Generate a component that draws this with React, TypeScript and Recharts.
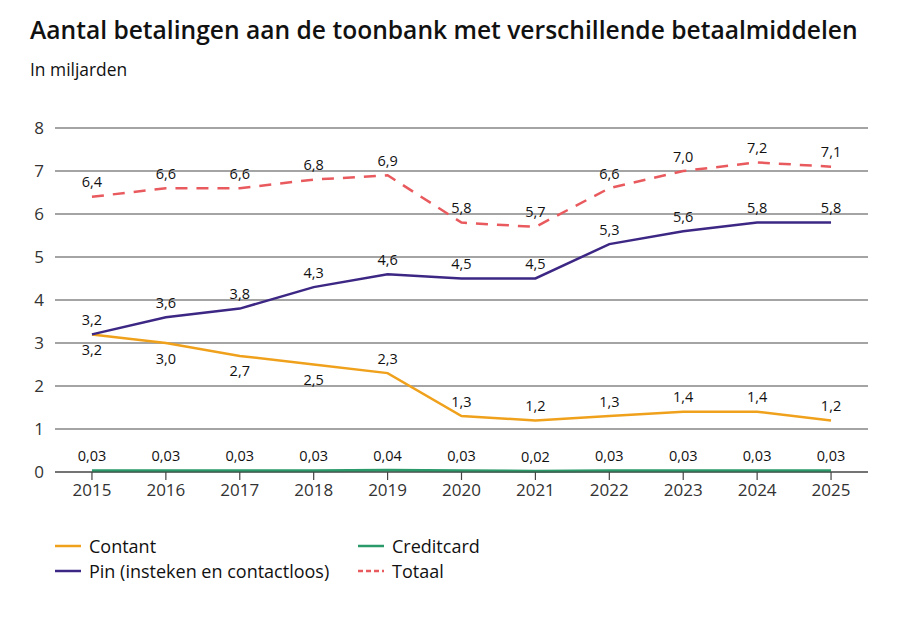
import React from "react";
import { LineChart, Line, XAxis, YAxis, CartesianGrid, LabelList } from "recharts";

const years = ["2015", "2016", "2017", "2018", "2019", "2020", "2021", "2022", "2023", "2024", "2025"];
const contant = [3.2, 3.0, 2.7, 2.5, 2.3, 1.3, 1.2, 1.3, 1.4, 1.4, 1.2];
const pin = [3.2, 3.6, 3.8, 4.3, 4.6, 4.5, 4.5, 5.3, 5.6, 5.8, 5.8];
const creditcard = [0.03, 0.03, 0.03, 0.03, 0.04, 0.03, 0.02, 0.03, 0.03, 0.03, 0.03];
const totaal = [6.4, 6.6, 6.6, 6.8, 6.9, 5.8, 5.7, 6.6, 7.0, 7.2, 7.1];
const contantBelow = [true, true, true, true, false, false, false, false, false, false, false];
const yTicks = [0, 1, 2, 3, 4, 5, 6, 7, 8];

const COLORS = {
  contant: "#f0a11c",
  pin: "#3d2784",
  creditcard: "#2a9a6a",
  totaal: "#e95a5e",
};

const data = years.map((y, i) => ({
  year: y,
  contant: contant[i],
  pin: pin[i],
  creditcard: creditcard[i],
  totaal: totaal[i],
  idx: i,
}));

const FONT = "'Open Sans', 'DejaVu Sans', sans-serif";

const fmt = (v: number, d: number) => v.toFixed(d).replace(".", ",");

const makeLabel = (decimals: number, belowFn?: (i: number) => boolean) => (props: any) => {
  const { x, y, value, index } = props;
  const below = belowFn ? belowFn(index) : false;
  return (
    <text
      x={x}
      y={below ? y + 15 : y - 15}
      textAnchor="middle"
      dominantBaseline="central"
      fontSize={14.5}
      fontFamily={FONT}
      fill="#111"
    >
      {fmt(Number(value), decimals)}
    </text>
  );
};

const legendItems = [
  { label: "Contant", color: COLORS.contant, dashed: false, x: 55, y: 546 },
  { label: "Pin (insteken en contactloos)", color: COLORS.pin, dashed: false, x: 55, y: 571 },
  { label: "Creditcard", color: COLORS.creditcard, dashed: false, x: 358, y: 546 },
  { label: "Totaal", color: COLORS.totaal, dashed: true, x: 358, y: 571 },
];

export default function App() {
  return (
    <div
      style={{
        position: "absolute",
        left: 0,
        top: 0,
        width: 900,
        height: 619,
        background: "#fff",
        fontFamily: FONT,
      }}
    >
      <div
        style={{
          position: "absolute",
          left: 30,
          top: 13,
          fontSize: 24.6,
          fontWeight: 600,
          color: "#111",
          whiteSpace: "nowrap",
        }}
      >
        Aantal betalingen aan de toonbank met verschillende betaalmiddelen
      </div>
      <div
        style={{
          position: "absolute",
          left: 30,
          top: 57,
          fontSize: 17.4,
          color: "#111",
          whiteSpace: "nowrap",
        }}
      >
        In miljarden
      </div>
      <div style={{ position: "absolute", left: 0, top: 0 }}>
        <LineChart
          width={900}
          height={619}
          data={data}
          margin={{ top: 128, right: 32, bottom: 117, left: 15 }}
        >
          <CartesianGrid vertical={false} stroke="#4a4a4a" strokeWidth={1.2} />
          <XAxis
            dataKey="year"
            scale="band"
            height={30}
            tickSize={8}
            tickMargin={4}
            stroke="#444"
            axisLine={{ stroke: "#444", strokeWidth: 1.2 }}
            tickLine={{ stroke: "#444", strokeWidth: 1.2 }}
            tick={{ fill: "#333", fontSize: 17, fontFamily: FONT }}
            interval={0}
          />
          <YAxis
            domain={[0, 8]}
            ticks={yTicks}
            width={40}
            axisLine={false}
            tickLine={false}
            tickSize={0}
            tickMargin={11}
            tick={{ fill: "#333", fontSize: 17, fontFamily: FONT }}
          />
          <Line
            dataKey="contant"
            stroke={COLORS.contant}
            strokeWidth={2.5}
            dot={false}
            isAnimationActive={false}
          >
            <LabelList dataKey="contant" content={makeLabel(1, (i) => contantBelow[i])} />
          </Line>
          <Line
            dataKey="pin"
            stroke={COLORS.pin}
            strokeWidth={2.5}
            dot={false}
            isAnimationActive={false}
          >
            <LabelList dataKey="pin" content={makeLabel(1)} />
          </Line>
          <Line
            dataKey="creditcard"
            stroke={COLORS.creditcard}
            strokeWidth={3}
            dot={false}
            isAnimationActive={false}
          >
            <LabelList dataKey="creditcard" content={makeLabel(2)} />
          </Line>
          <Line
            dataKey="totaal"
            stroke={COLORS.totaal}
            strokeWidth={2.5}
            strokeDasharray="12 9"
            dot={false}
            isAnimationActive={false}
          >
            <LabelList dataKey="totaal" content={makeLabel(1)} />
          </Line>
        </LineChart>
      </div>
      {legendItems.map((it) => (
        <div
          key={it.label}
          style={{
            position: "absolute",
            left: it.x,
            top: it.y - 12,
            height: 24,
            display: "flex",
            alignItems: "center",
            whiteSpace: "nowrap",
          }}
        >
          <svg width={26} height={4} style={{ marginRight: 8 }}>
            <line
              x1={0}
              y1={2}
              x2={26}
              y2={2}
              stroke={it.color}
              strokeWidth={2.5}
              strokeDasharray={it.dashed ? "5 3" : undefined}
            />
          </svg>
          <span style={{ fontSize: 18, color: "#111" }}>{it.label}</span>
        </div>
      ))}
    </div>
  );
}
